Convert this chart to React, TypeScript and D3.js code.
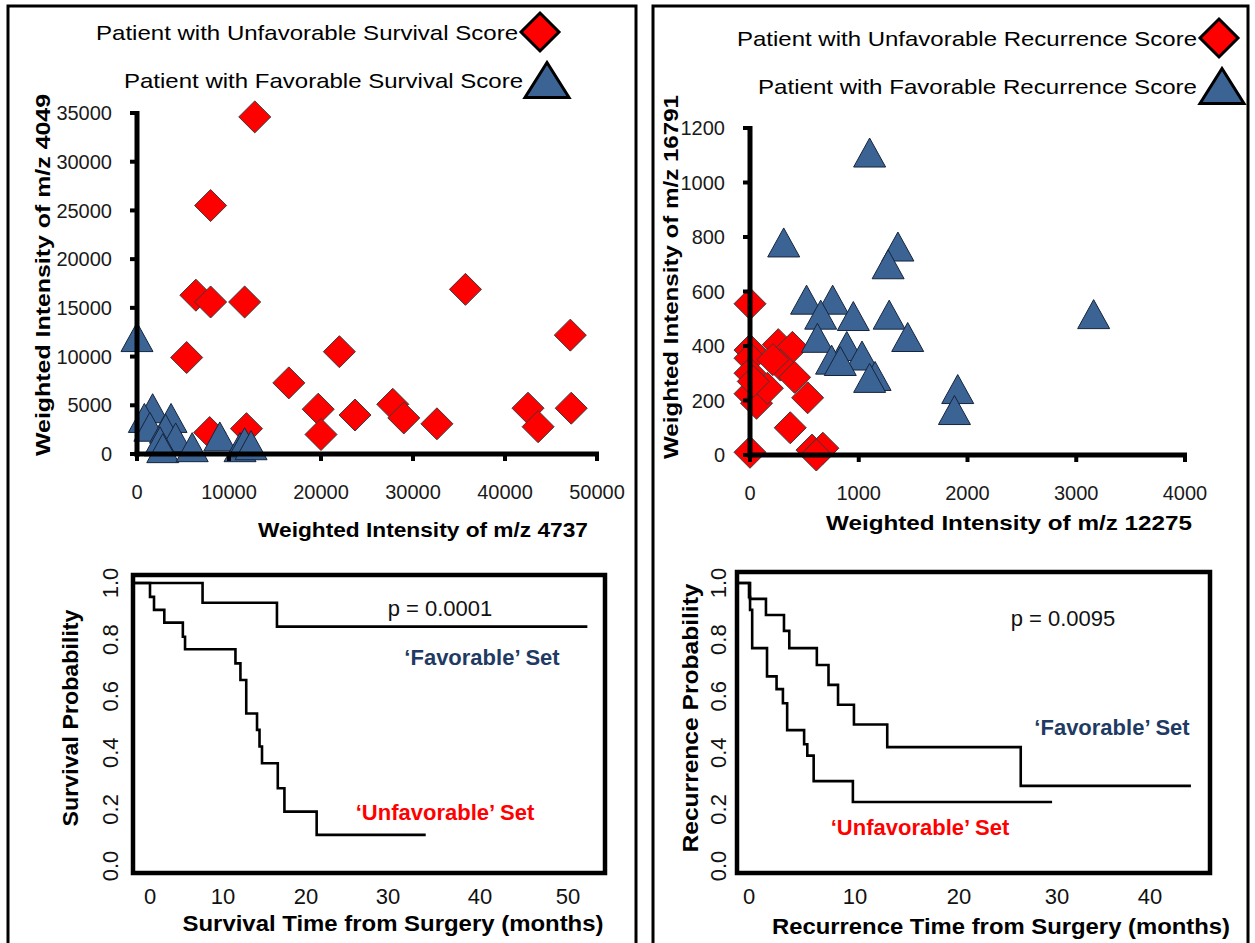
import React from "react";
import * as d3 from "d3";

const FONT = "'Liberation Sans', Arial, Helvetica, sans-serif";

// ---------- Top-left scatter (survival score) ----------
const survXTicks = [0, 10000, 20000, 30000, 40000, 50000];
const survYTicks = [0, 5000, 10000, 15000, 20000, 25000, 30000, 35000];
const survUnfavX = [12800, 8000, 6400, 8000, 11700, 5400, 16500, 22000, 35700, 47100, 19700, 20000, 23700, 27800, 29000, 32600, 42500, 43600, 47200, 7900, 11900];
const survUnfavY = [34600, 25500, 16300, 15600, 15600, 9900, 7300, 10500, 16900, 12200, 4600, 2000, 4000, 5100, 3700, 3100, 4700, 2800, 4700, 2200, 2600];
const survFavX = [0, 1700, 800, 3700, 1400, 3100, 4200, 2500, 2800, 6000, 9000, 11200, 11700, 12400];
const survFavY = [12000, 4700, 3700, 3700, 2800, 2600, 1700, 1300, 600, 700, 1800, 700, 1200, 900];

// ---------- Top-right scatter (recurrence score) ----------
const recXTicks = [0, 1000, 2000, 3000, 4000];
const recYTicks = [0, 200, 400, 600, 800, 1000, 1200];
const recUnfavX = [0, 0, 0, 0, 0, 60, 260, 390, 280, 160, 410, 530, 370, 0, 570, 670, 610, 210, 30];
const recUnfavY = [555, 385, 355, 300, 225, 190, 405, 395, 330, 245, 285, 210, 100, 10, 18, 25, 0, 350, 270];
const recFavX = [1100, 310, 1360, 1270, 520, 760, 650, 950, 1280, 1450, 620, 890, 750, 1030, 1150, 1100, 3160, 1910, 1880, 830];
const recFavY = [1110, 780, 765, 700, 570, 570, 515, 510, 515, 433, 430, 400, 350, 365, 290, 283, 517, 242, 165, 345];

// ---------- Bottom-left Kaplan-Meier (survival) ----------
const survTimeTicks = [0, 10, 20, 30, 40, 50];
const probTicks = [0, 0.2, 0.4, 0.6, 0.8, 1.0];
const survFavTimes = [7.2, 16.5];
const survFavProbs = [0.93, 0.846];
const survFavEnd = 52.2;
const survUnfavTimes = [0.0, 0.55, 1.96, 4.5, 4.8, 11.5, 12.1, 12.8, 14.1, 14.4, 14.7, 16.6, 17.4, 21.3];
const survUnfavProbs = [0.951, 0.905, 0.86, 0.81, 0.766, 0.716, 0.657, 0.539, 0.481, 0.422, 0.363, 0.275, 0.192, 0.11];
const survUnfavEnd = 34.1;

// ---------- Bottom-right Kaplan-Meier (recurrence) ----------
const recTimeTicks = [0, 10, 20, 30, 40];
const recFavTimes = [0.1, 1.6, 3.3, 3.8, 6.4, 7.5, 8.4, 9.9, 13.1, 26.3];
const recFavProbs = [0.944, 0.887, 0.831, 0.77, 0.71, 0.64, 0.57, 0.5, 0.42, 0.283];
const recFavEnd = 44.4;
const recUnfavTimes = [0, 0.1, 0.3, 1.7, 2.6, 3.2, 3.6, 5.2, 5.5, 6.1, 9.8];
const recUnfavProbs = [0.95, 0.905, 0.77, 0.67, 0.625, 0.575, 0.48, 0.43, 0.39, 0.3, 0.226];
const recUnfavEnd = 29.5;

const RED = "#FF0000";
const BLUE = "#3B6393";
const NAVY = "#1F3B63";

function diamond(cx: number, cy: number, r: number) {
  return `M${cx},${cy - r}L${cx + r},${cy}L${cx},${cy + r}L${cx - r},${cy}Z`;
}
function triangle(cx: number, cy: number, w: number, h: number) {
  return `M${cx},${cy - h / 2}L${cx + w / 2},${cy + h / 2}L${cx - w / 2},${cy + h / 2}Z`;
}

type ScatterProps = {
  xDomain: [number, number];
  yDomain: [number, number];
  xRange: [number, number];
  yRange: [number, number];
  xTicks: number[];
  yTicks: number[];
  ux: number[];
  uy: number[];
  fx: number[];
  fy: number[];
  xTitle: string;
  xTitleX: number;
  xTitleY: number;
  xTitleLen: number;
  yTitle: string;
  yTitleX: number;
  yTitleY: number;
  yTitleLen: number;
};

function Scatter(p: ScatterProps) {
  const x = d3.scaleLinear().domain(p.xDomain).range(p.xRange);
  const y = d3.scaleLinear().domain(p.yDomain).range(p.yRange);
  const x0 = p.xRange[0];
  const y0 = p.yRange[0];
  return (
    <g>
      {p.ux.map((v, i) => (
        <path key={"u" + i} d={diamond(x(v), y(p.uy[i]), 16)} fill={RED} stroke="#3a3a3a" strokeWidth={1} />
      ))}
      {p.fx.map((v, i) => (
        <path key={"f" + i} d={triangle(x(v), y(p.fy[i]), 32, 29)} fill={BLUE} stroke="#16253d" strokeWidth={1} />
      ))}
      <line x1={x0} x2={x0} y1={p.yRange[1] - 2} y2={y0 + 2.5} stroke="#000" strokeWidth={5} />
      <line x1={x0 - 2.5} x2={p.xRange[1] + 2} y1={y0} y2={y0} stroke="#000" strokeWidth={5} />
      {p.yTicks.map((t) => (
        <g key={"yt" + t}>
          <line x1={x0 - 7} x2={x0} y1={y(t)} y2={y(t)} stroke="#000" strokeWidth={4} />
          <text x={x0 - 25} y={y(t)} dy="0.36em" textAnchor="end" fontSize={20} fontFamily={FONT} fill="#1a1a1a">
            {t}
          </text>
        </g>
      ))}
      {p.xTicks.map((t) => (
        <g key={"xt" + t}>
          <line x1={x(t)} x2={x(t)} y1={y0} y2={y0 + 7} stroke="#000" strokeWidth={4} />
          <text x={x(t)} y={y0 + 38} dy="0.36em" textAnchor="middle" fontSize={20} fontFamily={FONT} fill="#1a1a1a">
            {t}
          </text>
        </g>
      ))}
      <text x={p.xTitleX} y={p.xTitleY} dy="0.36em" textAnchor="middle" fontSize={20} fontWeight="bold" fontFamily={FONT}
        textLength={p.xTitleLen} lengthAdjust="spacingAndGlyphs">
        {p.xTitle}
      </text>
      <text transform={`translate(${p.yTitleX},${p.yTitleY}) rotate(-90)`} dy="0.36em" textAnchor="middle" fontSize={21}
        fontWeight="bold" fontFamily={FONT} textLength={p.yTitleLen} lengthAdjust="spacingAndGlyphs">
        {p.yTitle}
      </text>
    </g>
  );
}

type KMProps = {
  xDomain: number[];
  xRange: number[];
  frame: { x: number; y: number; w: number; h: number };
  xTicks: number[];
  fav: { t: number[]; p: number[]; end: number };
  unfav: { t: number[]; p: number[]; end: number };
  yLabelX: number;
  yTitle: string;
  yTitleX: number;
  yTitleY: number;
  yTitleLen: number;
  xTitle: string;
  xTitleX: number;
  xTitleY: number;
  xTitleLen: number;
  pText: string;
  pX: number;
  pY: number;
  favX: number;
  favY: number;
  unfavX: number;
  unfavY: number;
};

function KM(p: KMProps) {
  const x = d3.scaleLinear().domain(p.xDomain).range(p.xRange);
  const y = d3.scaleLinear().domain([0, 1]).range([866, 583]);
  const start = p.frame.x + 2;
  const line = d3.line<[number, number]>().curve(d3.curveStepAfter);
  const build = (s: { t: number[]; p: number[]; end: number }) => {
    const pts: [number, number][] = [[start, y(1)]];
    s.t.forEach((t, i) => pts.push([x(t), y(s.p[i])]));
    pts.push([x(s.end), y(s.p[s.p.length - 1])]);
    return line(pts) || "";
  };
  const xLabY = 896;
  return (
    <g>
      <path d={build(p.fav)} fill="none" stroke="#000" strokeWidth={2.6} />
      <path d={build(p.unfav)} fill="none" stroke="#000" strokeWidth={2.6} />
      <rect x={p.frame.x} y={p.frame.y} width={p.frame.w} height={p.frame.h} fill="none" stroke="#000" strokeWidth={4.5} />
      {p.xTicks.map((t) => (
        <text key={"x" + t} x={x(t)} y={xLabY} dy="0.36em" textAnchor="middle" fontSize={22} fontFamily={FONT} fill="#111">
          {t}
        </text>
      ))}
      {probTicks.map((t) => (
        <text key={"y" + t} transform={`translate(${p.yLabelX},${y(t)}) rotate(-90)`} dy="0.36em" textAnchor="middle"
          fontSize={22} fontFamily={FONT} fill="#111">
          {t.toFixed(1)}
        </text>
      ))}
      <text transform={`translate(${p.yTitleX},${p.yTitleY}) rotate(-90)`} dy="0.36em" textAnchor="middle" fontSize={22}
        fontWeight="bold" fontFamily={FONT} textLength={p.yTitleLen} lengthAdjust="spacingAndGlyphs">
        {p.yTitle}
      </text>
      <text x={p.xTitleX} y={p.xTitleY} dy="0.36em" textAnchor="middle" fontSize={22} fontWeight="bold" fontFamily={FONT}
        textLength={p.xTitleLen} lengthAdjust="spacingAndGlyphs">
        {p.xTitle}
      </text>
      <text x={p.pX} y={p.pY} dy="0.36em" textAnchor="middle" fontSize={22} fontFamily={FONT} fill="#111">
        {p.pText}
      </text>
      <text x={p.favX} y={p.favY} dy="0.36em" textAnchor="middle" fontSize={22} fontWeight="bold" fontFamily={FONT} fill={NAVY}>
        {"\u2018Favorable\u2019 Set"}
      </text>
      <text x={p.unfavX} y={p.unfavY} dy="0.36em" textAnchor="middle" fontSize={22} fontWeight="bold" fontFamily={FONT} fill={RED}>
        {"\u2018Unfavorable\u2019 Set"}
      </text>
    </g>
  );
}

function LegendRow(props: { text: string; x1: number; x2: number; y: number; kind: "d" | "t"; mx: number }) {
  const { text, x1, x2, y, kind, mx } = props;
  return (
    <g>
      <text x={x1} y={y} dy="0.36em" fontSize={21} fontFamily={FONT} fill="#000" textLength={x2 - x1} lengthAdjust="spacingAndGlyphs">
        {text}
      </text>
      {kind === "d" ? (
        <path d={diamond(mx, y, 19)} fill={RED} stroke="#000" strokeWidth={3} />
      ) : (
        <path d={triangle(mx, y, 44, 35)} fill={BLUE} stroke="#000" strokeWidth={3} />
      )}
    </g>
  );
}

export default function App() {
  return (
    <div style={{ position: "fixed", left: 0, top: 0 }}>
      <svg width={1255} height={943} style={{ display: "block", background: "#fff" }}>
        <rect x={0} y={0} width={1255} height={943} fill="#fff" />
        {/* panel borders */}
        <rect x={8} y={6} width={628} height={960} fill="none" stroke="#000" strokeWidth={3} />
        <rect x={653} y={6} width={595} height={960} fill="none" stroke="#000" strokeWidth={3} />

        {/* legends */}
        <LegendRow text="Patient with Unfavorable Survival Score" x1={96} x2={518} y={32} kind="d" mx={540} />
        <LegendRow text="Patient with Favorable Survival Score" x1={124} x2={523} y={80} kind="t" mx={547} />
        <LegendRow text="Patient with Unfavorable Recurrence Score" x1={737} x2={1197} y={38} kind="d" mx={1219} />
        <LegendRow text="Patient with Favorable Recurrence Score" x1={758} x2={1197} y={86} kind="t" mx={1222} />

        <Scatter
          xDomain={[0, 50000]} yDomain={[0, 35000]} xRange={[137, 597]} yRange={[454, 113]}
          xTicks={survXTicks} yTicks={survYTicks}
          ux={survUnfavX} uy={survUnfavY} fx={survFavX} fy={survFavY}
          xTitle="Weighted Intensity of m/z 4737" xTitleX={423} xTitleY={530} xTitleLen={330}
          yTitle="Weighted Intensity of m/z 4049" yTitleX={42} yTitleY={275} yTitleLen={362}
        />
        <Scatter
          xDomain={[0, 4000]} yDomain={[0, 1200]} xRange={[750, 1185]} yRange={[455, 128]}
          xTicks={recXTicks} yTicks={recYTicks}
          ux={recUnfavX} uy={recUnfavY} fx={recFavX} fy={recFavY}
          xTitle="Weighted Intensity of m/z 12275" xTitleX={1009} xTitleY={523} xTitleLen={366}
          yTitle="Weighted Intensity of m/z 16791" yTitleX={670} yTitleY={277} yTitleLen={364}
        />

        <KM
          xDomain={[0, 10, 20, 30, 40, 50]} xRange={[150, 223, 306, 388, 480, 568]}
          frame={{ x: 133, y: 575, w: 472, h: 298 }} xTicks={survTimeTicks}
          fav={{ t: survFavTimes, p: survFavProbs, end: survFavEnd }}
          unfav={{ t: survUnfavTimes, p: survUnfavProbs, end: survUnfavEnd }}
          yLabelX={110}
          yTitle="Survival Probability" yTitleX={70} yTitleY={718} yTitleLen={217}
          xTitle="Survival Time from Surgery (months)" xTitleX={393} xTitleY={923} xTitleLen={421}
          pText="p = 0.0001" pX={440} pY={608}
          favX={482} favY={657} unfavX={445} unfavY={812}
        />
        <KM
          xDomain={[0, 10, 20, 30, 40]} xRange={[749, 855, 959, 1057, 1150]}
          frame={{ x: 737, y: 572, w: 473, h: 301 }} xTicks={recTimeTicks}
          fav={{ t: recFavTimes, p: recFavProbs, end: recFavEnd }}
          unfav={{ t: recUnfavTimes, p: recUnfavProbs, end: recUnfavEnd }}
          yLabelX={718}
          yTitle="Recurrence Probability" yTitleX={690} yTitleY={718} yTitleLen={269}
          xTitle="Recurrence Time from Surgery (months)" xTitleX={1001} xTitleY={926} xTitleLen={458}
          pText="p = 0.0095" pX={1063} pY={618}
          favX={1112} favY={727} unfavX={920} unfavY={827}
        />
      </svg>
    </div>
  );
}
